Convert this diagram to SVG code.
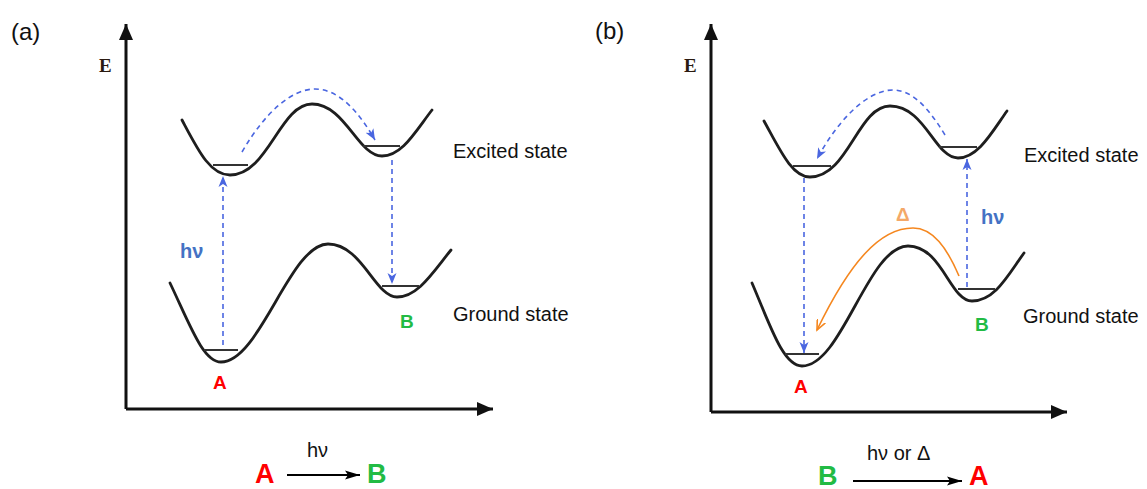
<svg xmlns="http://www.w3.org/2000/svg" width="1147" height="489" viewBox="0 0 1147 489">
<style>
  .curve{fill:none;stroke:#1e1e1e;stroke-width:2.8;stroke-linecap:round}
  .level{stroke:#333;stroke-width:1.8}
  .axis{fill:none;stroke:#111;stroke-width:3}
  .dash{fill:none;stroke:#4a66e0;stroke-width:1.6;stroke-dasharray:5 4}
  .orange{fill:none;stroke:#f5871f;stroke-width:1.6}
  .rxn{fill:none;stroke:#000;stroke-width:2}
  .lbl{font-family:"Liberation Sans",Arial,sans-serif;font-size:20px;fill:#111}
  .panel{font-family:"Liberation Sans",Arial,sans-serif;font-size:24px;fill:#111}
  .E{font-family:"Liberation Serif","Times New Roman",serif;font-weight:bold;font-size:19px;fill:#2a1a10}
  .hv{font-family:"Liberation Sans",Arial,sans-serif;font-weight:bold;font-size:20px;fill:#4472c4}
  .red{font-family:"Liberation Sans",Arial,sans-serif;font-weight:bold;font-size:19px;fill:#ff0000}
  .green{font-family:"Liberation Sans",Arial,sans-serif;font-weight:bold;font-size:19px;fill:#22bb44}
  .big{font-size:27px}
  .delta{font-family:"Liberation Sans",Arial,sans-serif;font-weight:bold;font-size:19px;fill:#f4a868}
</style>
<defs>
  <marker id="axhead" markerUnits="userSpaceOnUse" markerWidth="18" markerHeight="16" refX="16" refY="8" orient="auto">
    <path d="M0,1 L16,8 L0,15 Z" fill="#111"/>
  </marker>
  <marker id="bluehead" markerUnits="userSpaceOnUse" markerWidth="12" markerHeight="10" refX="11" refY="5" orient="auto">
    <path d="M0,0.5 L11,5 L0,9.5 L3,5 Z" fill="#4a66e0"/>
  </marker>
  <marker id="orangehead" markerUnits="userSpaceOnUse" markerWidth="12" markerHeight="10" refX="10" refY="5" orient="auto">
    <path d="M0,0.5 L10,5 L0,9.5" fill="none" stroke="#f5871f" stroke-width="1.6"/>
  </marker>
  <marker id="rxnhead" markerUnits="userSpaceOnUse" markerWidth="16" markerHeight="10" refX="15" refY="5" orient="auto">
    <path d="M0,0.5 L15,5 L0,9.5 L3,5 Z" fill="#000"/>
  </marker>
</defs>

<g id="panel-a">
  <text class="panel" x="11" y="40">(a)</text>
  <g id="a-axes">
    <path class="axis" d="M126,409 L126,24" marker-end="url(#axhead)"/>
    <path class="axis" d="M126,409 L493,409" marker-end="url(#axhead)"/>
    <text class="E" x="99" y="72">E</text>
  </g>
  <g id="a-excited">
    <path class="curve" d="M182,120 C198,150 210,175 230,175 C268,175 280,104 312,104 C345,104 358,156 382,156 C402,156 415,132 432,110"/>
    <line class="level" x1="213" y1="165" x2="248" y2="165"/>
    <line class="level" x1="363" y1="146" x2="400" y2="146"/>
    <text class="lbl" x="453" y="158">Excited state</text>
  </g>
  <g id="a-ground">
    <path class="curve" d="M170,283 C190,325 203,362 221,362 C260,362 290,244 328,244 C362,244 375,297 397,297 C418,297 433,272 451,250"/>
    <line class="level" x1="204" y1="350" x2="238" y2="350"/>
    <line class="level" x1="382" y1="286" x2="419" y2="286"/>
    <text class="lbl" x="453" y="321">Ground state</text>
  </g>
  <g id="a-labels">
    <text class="hv" x="180" y="258">hν</text>
    <text class="red" x="213" y="389">A</text>
    <text class="green" x="400" y="328">B</text>
  </g>
  <g id="a-reaction">
    <text class="lbl" x="307" y="457">hν</text>
    <text class="red big" x="255" y="483">A</text>
    <text class="green big" x="367" y="483">B</text>
  </g>
</g>

<g id="panel-b">
  <text class="panel" x="595" y="39">(b)</text>
  <g id="b-axes">
    <path class="axis" d="M711,412 L711,24" marker-end="url(#axhead)"/>
    <path class="axis" d="M711,412 L1067,412" marker-end="url(#axhead)"/>
    <text class="E" x="684" y="72">E</text>
  </g>
  <g id="b-excited">
    <path class="curve" d="M764,121 C780,150 792,177 810,177 C848,177 858,106 890,106 C925,106 935,158 958,158 C978,158 992,132 1007,111"/>
    <line class="level" x1="793" y1="166" x2="831" y2="166"/>
    <line class="level" x1="939" y1="147" x2="977" y2="147"/>
    <text class="lbl" x="1024" y="162">Excited state</text>
  </g>
  <g id="b-ground">
    <path class="curve" d="M752,283 C770,325 783,366 802,366 C842,366 868,246 908,246 C942,246 950,301 972,301 C995,301 1008,275 1024,253"/>
    <line class="level" x1="785" y1="354" x2="819" y2="354"/>
    <line class="level" x1="958" y1="289" x2="995" y2="289"/>
    <text class="lbl" x="1023" y="323">Ground state</text>
  </g>
  <g id="b-labels">
    <text class="hv" x="981" y="224">hν</text>
    <text class="delta" x="896" y="221">Δ</text>
    <text class="red" x="794" y="393">A</text>
    <text class="green" x="975" y="331">B</text>
  </g>
  <g id="b-reaction">
    <text class="lbl" x="867" y="460">hν or Δ</text>
    <text class="green big" x="818" y="485">B</text>
    <text class="red big" x="969" y="485">A</text>
  </g>
</g>

<g id="connectors">
  <path class="dash" d="M223,345 L223,176" marker-end="url(#bluehead)"/>
  <path class="dash" d="M392,160 L392,284" marker-end="url(#bluehead)"/>
  <path class="dash" d="M242,152 C265,112 292,89 315,89 C340,89 360,114 375,140" marker-end="url(#bluehead)"/>
  <path class="rxn" d="M287,475 L360,475" marker-end="url(#rxnhead)"/>

  <path class="dash" d="M804,178 L804,353" marker-end="url(#bluehead)"/>
  <path class="dash" d="M967,287 L967,159" marker-end="url(#bluehead)"/>
  <path class="dash" d="M945,135 C928,107 912,90 893,90 C865,90 835,125 817,159" marker-end="url(#bluehead)"/>
  <path class="orange" d="M959,276 C947,248 933,228 913,228 C880,228 850,262 817,330" marker-end="url(#orangehead)"/>
  <path class="rxn" d="M853,481 L962,481" marker-end="url(#rxnhead)"/>
</g>
</svg>
